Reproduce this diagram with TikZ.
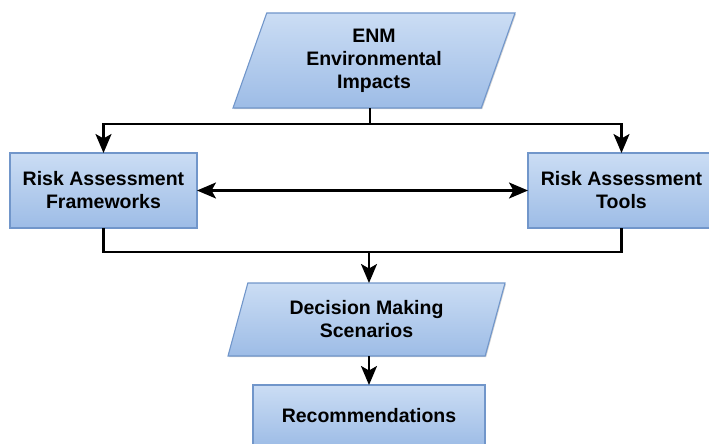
\documentclass[tikz,border=0pt]{standalone}
\usepackage{fontspec}
\setmainfont{Liberation Sans}
\usetikzlibrary{shapes.geometric,arrows.meta,shadows}

\definecolor{boxtop}{HTML}{CBDDF4}
\definecolor{boxbot}{HTML}{9DBCE6}
\definecolor{boxline}{HTML}{7196CA}

\begin{document}
\begin{tikzpicture}[x=1pt,y=-1pt,
    every node/.style={font=\bfseries\fontsize{19.5}{23}\selectfont, align=center, inner sep=0pt, outer sep=0pt},
    shade/.style={draw=boxline, line width=1.1pt, top color=boxtop, bottom color=boxbot,
        drop shadow={shadow xshift=1pt, shadow yshift=-1.2pt, opacity=0.35}},
    block/.style={shade, rectangle, minimum width=#1, minimum height=75pt},
    datablock/.style={shade, trapezium, trapezium left angle=62, trapezium right angle=118,
        trapezium stretches body},
    tip/.tip={Stealth[length=19pt,width=16pt,inset=4.5pt]},
    flow/.style={line width=2.3pt, -tip},
    link/.style={line width=2.3pt}]
    \useasboundingbox (0,0) rectangle (709,444);
    \clip (0,0) rectangle (709,444);

    % shapes
    \node[datablock, minimum width=282pt, minimum height=95pt] (enm) at (374,60.5) {ENM\\Environmental\\Impacts};
    \node[block=187pt] (raf) at (103.5,190.5) {Risk Assessment\\Frameworks};
    \node[block=187pt] (rat) at (621.5,190.5) {Risk Assessment\\Tools};
    \node[datablock, minimum width=277pt, minimum height=73pt] (dms) at (366.5,319.5) {Decision Making\\Scenarios};
    \node[block=232pt, minimum height=62pt] (rec) at (369,416) {Recommendations};

    % connectors
    \coordinate (split) at (370,124);
    \coordinate (join) at (369,252);
    \draw[link] (split |- enm.south) -- (split);
    \draw[flow] (split) -| (raf.north);
    \draw[flow] (split) -| (rat.north);
    \draw[flow, tip-tip] (raf.east) -- (rat.west);
    \draw[link] (raf.south) |- (join);
    \draw[link] (rat.south) |- (join);
    \draw[flow] (join) -- (dms.north -| join);
    \draw[flow] (dms.south -| join) -- (rec.north -| join);
\end{tikzpicture}
\end{document}
